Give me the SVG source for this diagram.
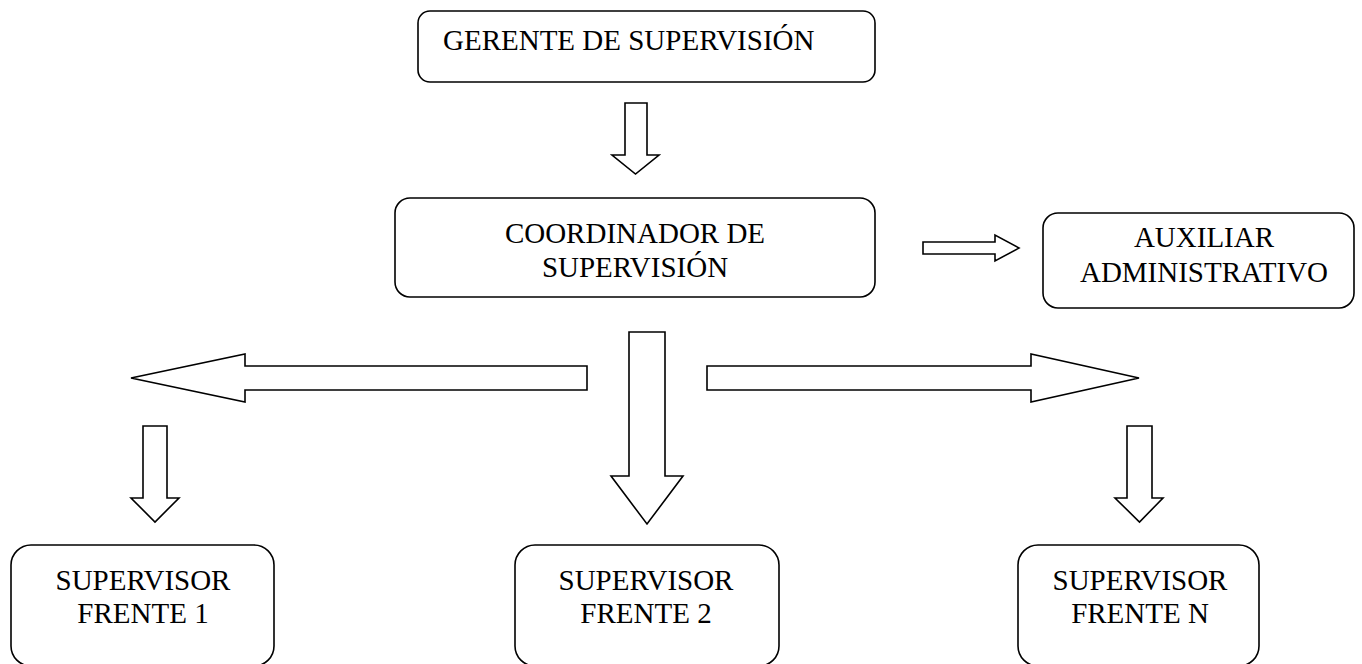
<svg xmlns="http://www.w3.org/2000/svg" width="1362" height="664" viewBox="0 0 1362 664">
<style>
.box{fill:#fff;stroke:#000;stroke-width:1.6}
.arr{fill:#fff;stroke:#000;stroke-width:1.6;stroke-linejoin:miter}
text{font-family:"Liberation Serif","Times New Roman",serif;font-size:29px;fill:#000}
.c{text-anchor:middle}
</style>
<rect width="1362" height="664" fill="#fff"/>
<g id="connectors">
<polygon class="arr" points="625,103 647,103 647,155 659,155 635.5,174 612,155 625,155"/>
<polygon class="arr" points="923,242 995,242 995,235 1019,248 995,261 995,254 923,254"/>
<polygon class="arr" points="587,366 245,366 245,354 131,378 245,402 245,390 587,390"/>
<polygon class="arr" points="707,366 1031,366 1031,354 1139,378 1031,402 1031,390 707,390"/>
<polygon class="arr" points="629,332 665,332 665,476 683,476 647,524 611,476 629,476"/>
<polygon class="arr" points="143,426 167,426 167,498 179,498 155,522 131,498 143,498"/>
<polygon class="arr" points="1127,426 1152,426 1152,498 1163,498 1139.5,522 1115,498 1127,498"/>
</g>
<g id="gerente">
<rect class="box" x="418" y="11" width="457" height="71" rx="12"/>
<text x="443" y="50">GERENTE DE SUPERVISIÓN</text>
</g>
<g id="coordinador">
<rect class="box" x="395" y="198" width="480" height="99" rx="15"/>
<text class="c" x="635" y="243">COORDINADOR DE</text>
<text class="c" x="635" y="277">SUPERVISIÓN</text>
</g>
<g id="auxiliar">
<rect class="box" x="1043" y="213" width="311" height="95" rx="15"/>
<text class="c" x="1204" y="247">AUXILIAR</text>
<text class="c" x="1204" y="282">ADMINISTRATIVO</text>
</g>
<g id="frente1">
<rect class="box" x="11" y="545" width="263" height="121" rx="20"/>
<text class="c" x="143" y="590">SUPERVISOR</text>
<text class="c" x="143" y="623">FRENTE 1</text>
</g>
<g id="frente2">
<rect class="box" x="515" y="545" width="264" height="121" rx="20"/>
<text class="c" x="646" y="590">SUPERVISOR</text>
<text class="c" x="646" y="623">FRENTE 2</text>
</g>
<g id="frenteN">
<rect class="box" x="1018" y="545" width="241" height="121" rx="20"/>
<text class="c" x="1140" y="590">SUPERVISOR</text>
<text class="c" x="1140" y="623">FRENTE N</text>
</g>
</svg>
